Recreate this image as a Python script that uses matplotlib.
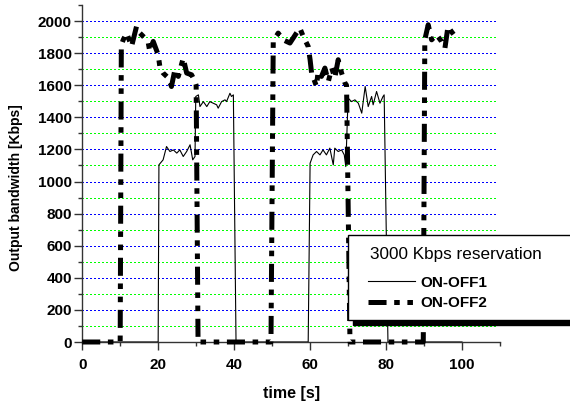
import matplotlib
matplotlib.use("Agg")
import matplotlib.pyplot as plt
from matplotlib.patches import Rectangle
from matplotlib.ticker import MultipleLocator

plt.rcParams['font.family'] = ['Liberation Sans', 'DejaVu Sans']
plt.rcParams['lines.scale_dashes'] = False

# ON-OFF1 (thin solid)
t1 = [0, 20.0, 20.2, 21.3, 22.2, 23.1, 24.0, 24.9, 25.7, 26.6, 27.5, 28.4, 29.1, 29.7,
      29.9, 30.6, 31.0, 31.9, 32.8, 33.6, 34.5, 35.4, 35.8, 36.7, 37.6, 38.0, 38.9, 39.3,
      39.8, 40.5, 59.5, 60.0, 60.8, 61.7, 62.6, 63.4, 64.3, 65.2, 66.1, 66.5, 67.4, 68.3,
      69.0, 69.4, 70.0, 70.9, 71.8, 72.7, 73.6, 74.5, 75.3, 76.2, 76.6, 77.5, 78.4, 79.2,
      79.5, 80.5, 100]
v1 = [0, 0, 1104, 1135, 1218, 1187, 1197, 1177, 1197, 1156, 1187, 1229, 1135, 1156,
      1530, 1540, 1467, 1498, 1467, 1498, 1488, 1478, 1457, 1498, 1509, 1498, 1550, 1530,
      1540, 0, 0, 1114, 1166, 1187, 1166, 1197, 1166, 1208, 1104, 1208, 1187, 1197,
      1166, 1093, 1520, 1498, 1509, 1488, 1426, 1592, 1467, 1530, 1478, 1561, 1488, 1530,
      1540, 0, 0]

# ON-OFF2 (thick dash-dot-dot)
t2 = [0, 10.0, 10.3, 10.8, 11.7, 13.0, 14.3, 15.2, 16.5, 17.4, 17.8, 18.7, 20.0, 20.5,
      21.3, 22.7, 23.5, 24.4, 25.3, 26.6, 27.5, 28.8, 29.7, 30.0, 30.5, 49.7, 50.3, 51.6,
      52.9, 54.7, 56.4, 57.3, 58.2, 59.5, 60.0, 60.4, 61.7, 62.1, 63.0, 63.9, 64.8, 65.7,
      66.5, 67.4, 68.3, 69.2, 69.6, 70.5, 89.8, 90.2, 91.1, 92.0, 93.3, 94.6, 95.5, 96.3,
      97.2, 98.5]
v2 = [0, 0, 1850, 1883, 1925, 1842, 1966, 1925, 1894, 1863, 1810, 1873, 1790, 1707,
      1676, 1645, 1592, 1696, 1655, 1769, 1676, 1665, 1623, 1600, 0, 0, 1873, 1925,
      1883, 1863, 1925, 1956, 1904, 1842, 1759, 1676, 1592, 1686, 1655, 1707, 1623, 1707,
      1645, 1759, 1676, 1613, 1600, 0, 0, 1883, 1977, 1883, 1915, 1873, 1831, 1966,
      1935, 1894]

major_grid = list(range(200, 2001, 200))
minor_grid = list(range(100, 2000, 200))
x_ticks = [0, 20, 40, 60, 80, 100]
y_ticks = list(range(0, 2001, 200))

fig = plt.figure(figsize=(5.70, 4.03), dpi=100)
ax = fig.add_axes([82.2 / 570, 61 / 403, 417.8 / 570, 337 / 403])
ax.set_xlim(0, 110)
ax.set_ylim(0, 2100)

for y in minor_grid:
    ax.plot([0, 109.2], [y, y], color='#00ff00', linestyle=(0, (1.2, 1.8)), linewidth=0.8,
            zorder=1, antialiased=False)
for y in major_grid:
    ax.plot([0, 109.2], [y, y], color='#0000ff', linestyle=(0, (1.2, 1.8)), linewidth=0.8,
            zorder=1, antialiased=False)

l1, = ax.plot(t1, v1, color='black', linewidth=0.8, label='ON-OFF1', zorder=3)
l2, = ax.plot(t2, v2, color='black', linewidth=3.6, label='ON-OFF2', zorder=4,
              dashes=(13, 5.5, 4, 5.5, 4, 5.5), dash_capstyle='butt', clip_on=False)

for s in ['top', 'right']:
    ax.spines[s].set_visible(False)
for s in ['left', 'bottom']:
    ax.spines[s].set_linewidth(1.0)
    ax.spines[s].set_color('#333333')

ax.set_xticks(x_ticks)
ax.set_yticks(y_ticks)
ax.xaxis.set_minor_locator(MultipleLocator(10))
ax.yaxis.set_minor_locator(MultipleLocator(100))
ax.tick_params(which='major', direction='out', length=5.5, width=1.0, color='#333333',
               labelsize=11, pad=2)
ax.tick_params(axis='x', which='major', pad=6)
ax.tick_params(which='minor', direction='out', length=3, width=1.0, color='#333333')
for lab in ax.get_xticklabels() + ax.get_yticklabels():
    lab.set_fontweight('bold')

ax.set_xlabel('time [s]', fontsize=11.5, fontweight='bold')
ax.set_ylabel('Output bandwidth [Kbps]', fontsize=10, fontweight='bold')
ax.xaxis.set_label_coords(0.5, -0.13)
ax.yaxis.set_label_coords(-0.142, 0.458)

# legend frame with black shadow
W, H = 570.0, 403.0
shadow = Rectangle((353 / W, 1 - 325 / H), 240 / W, 85 / H, transform=fig.transFigure,
                   facecolor='black', edgecolor='black', zorder=3)
box = Rectangle((348 / W, 1 - 320 / H), 240 / W, 85 / H, transform=fig.transFigure,
                facecolor='white', edgecolor='black', linewidth=1.0, zorder=4)
fig.add_artist(shadow)
fig.add_artist(box)
fig.text(370 / W, 1 - 255 / H, '3000 Kbps reservation', fontsize=12.3,
         ha='left', va='center', zorder=6)

leg = fig.legend(handles=[l1, l2], labels=['ON-OFF1', 'ON-OFF2'],
                 loc='center left',
                 bbox_to_anchor=(368 / W, 1 - 293 / H), bbox_transform=fig.transFigure,
                 frameon=False, borderpad=0, borderaxespad=0,
                 prop={'weight': 'bold', 'size': 11},
                 handlelength=3.1, handletextpad=0.3, labelspacing=0.42)
leg.set_zorder(5)

fig.savefig('out.png', dpi=100)
